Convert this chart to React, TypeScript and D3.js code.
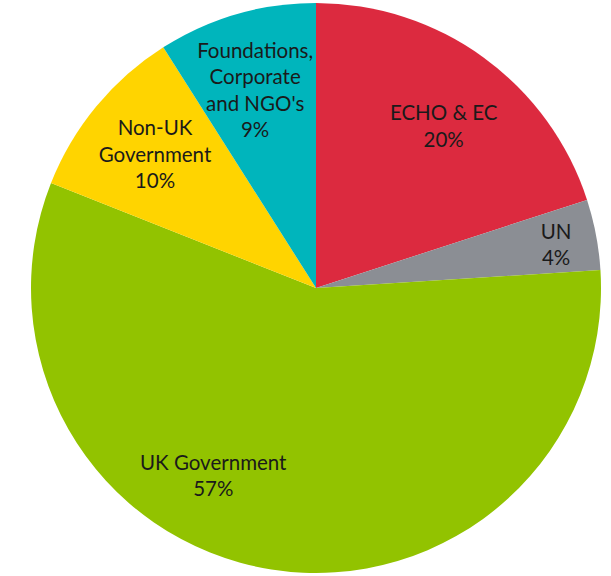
import React from "react";
import * as d3 from "d3";

const categories = ["ECHO & EC", "UN", "UK Government", "Non-UK Government", "Foundations, Corporate and NGO's"];
const labelLines = [["ECHO & EC"], ["UN"], ["UK Government"], ["Non-UK", "Government"], ["Foundations,", "Corporate", "and NGO's"]];
const values = [20, 4, 57, 10, 9];
const colors = ["#DC2A3F", "#8B8E94", "#92C300", "#FFD400", "#00B5BC"];

// label placement (radius, angle in degrees from 12 o'clock)
const labelPlace = [
  { r: 206, a: 38.3 },
  { r: 244, a: 79.8 },
  { r: 214, a: 208.7 },
  { r: 209, a: 309.6 },
  { r: 207, a: 342.9 },
];

const W = 611;
const H = 576;
const cx = 316;
const cy = 288;
const R = 285;
const lineH = 26.5;

export default function App() {
  const pie = d3.pie<number>().sort(null).value((d) => d)(values);
  const arc = d3.arc<d3.PieArcDatum<number>>().innerRadius(0).outerRadius(R);
  return (
    <svg
      width={W}
      height={H}
      style={{ position: "absolute", left: 0, top: 0, background: "#fff" }}
      fontFamily="Lato, 'Open Sans', sans-serif"
    >
      <g transform={`translate(${cx},${cy})`}>
        {pie.map((p, i) => (
          <path key={categories[i]} d={arc(p) || ""} fill={colors[i]} />
        ))}
        {pie.map((p, i) => {
          const lp = labelPlace[i];
          const ang = (lp.a * Math.PI) / 180;
          const x = lp.r * Math.sin(ang);
          const y = -lp.r * Math.cos(ang);
          const lines = [...labelLines[i], `${values[i]}%`];
          const y0 = y - ((lines.length - 1) * lineH) / 2;
          return (
            <text key={"t" + i} textAnchor="middle" fontSize={20.5} fill="#1a1a1a">
              {lines.map((l, j) => (
                <tspan key={j} x={x} y={y0 + j * lineH} dy="0.35em">
                  {l}
                </tspan>
              ))}
            </text>
          );
        })}
      </g>
    </svg>
  );
}
